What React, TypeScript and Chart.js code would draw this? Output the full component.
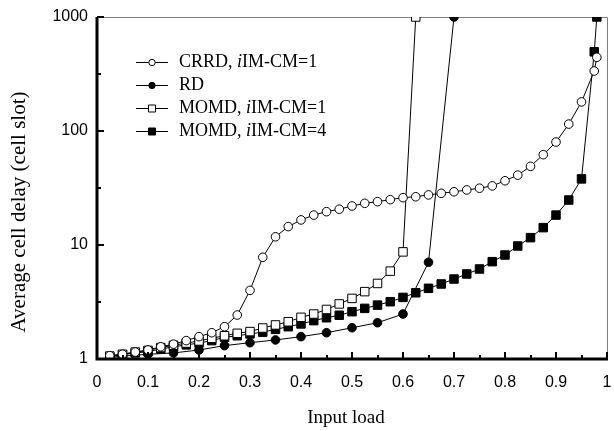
import React, { useEffect, useRef } from "react";
import { Chart, registerables } from "chart.js";

Chart.register(...registerables);

// ---- data ----
const crrdLoad = [0.025, 0.05, 0.075, 0.1, 0.125, 0.15, 0.175, 0.2, 0.225, 0.25, 0.275, 0.3, 0.325, 0.35, 0.375, 0.4, 0.425, 0.45, 0.475, 0.5, 0.525, 0.55, 0.575, 0.6, 0.625, 0.65, 0.675, 0.7, 0.725, 0.75, 0.775, 0.8, 0.825, 0.85, 0.875, 0.9, 0.925, 0.95, 0.975, 0.98];
const crrdDelay = [1.07, 1.1, 1.15, 1.2, 1.28, 1.35, 1.45, 1.57, 1.7, 1.92, 2.43, 4.0, 7.8, 11.8, 14.5, 16.6, 18.3, 19.6, 20.6, 22, 23.2, 24, 25, 26, 26.5, 27.5, 28.4, 29.3, 30.4, 31.5, 33, 36.6, 41, 49, 62, 80, 115, 180, 336, 443];

const rdLoad = [0.025, 0.05, 0.1, 0.15, 0.2, 0.25, 0.3, 0.35, 0.4, 0.45, 0.5, 0.55, 0.6, 0.65, 0.7];
const rdDelay = [1.03, 1.06, 1.1, 1.13, 1.2, 1.31, 1.39, 1.47, 1.57, 1.7, 1.88, 2.08, 2.48, 7.06, 1000];

const momd1Load = [0.025, 0.05, 0.075, 0.1, 0.125, 0.15, 0.175, 0.2, 0.225, 0.25, 0.275, 0.3, 0.325, 0.35, 0.375, 0.4, 0.425, 0.45, 0.475, 0.5, 0.525, 0.55, 0.575, 0.6, 0.625];
const momd1Delay = [1.06, 1.1, 1.15, 1.19, 1.26, 1.32, 1.38, 1.44, 1.52, 1.6, 1.68, 1.74, 1.87, 1.99, 2.12, 2.32, 2.48, 2.72, 3.04, 3.4, 3.9, 4.6, 5.9, 8.7, 1000];

const momd4Load = [0.025, 0.05, 0.075, 0.1, 0.125, 0.15, 0.175, 0.2, 0.225, 0.25, 0.275, 0.3, 0.325, 0.35, 0.375, 0.4, 0.425, 0.45, 0.475, 0.5, 0.525, 0.55, 0.575, 0.6, 0.625, 0.65, 0.675, 0.7, 0.725, 0.75, 0.775, 0.8, 0.825, 0.85, 0.875, 0.9, 0.925, 0.95, 0.975, 0.98];
const momd4Delay = [1.05, 1.09, 1.13, 1.16, 1.22, 1.28, 1.33, 1.38, 1.45, 1.55, 1.6, 1.66, 1.72, 1.82, 1.92, 2.03, 2.17, 2.3, 2.42, 2.6, 2.78, 2.97, 3.18, 3.47, 3.81, 4.17, 4.55, 5.03, 5.57, 6.16, 7.14, 8.17, 9.8, 11.6, 14.2, 18.3, 24.8, 38, 495, 1000];

const yTickValues = [1, 10, 100, 1000];
const xTickLabels = ["0", "0.1", "0.2", "0.3", "0.4", "0.5", "0.6", "0.7", "0.8", "0.9", "1"];

const xTitle = "Input load";
const yTitle = "Average cell delay (cell slot)";

// legend entries: [prefix, italic part, suffix]
const legendItems = [
  { parts: ["CRRD, ", "i", "IM-CM=1"], style: "circle", fill: "#ffffff" },
  { parts: ["RD", "", ""], style: "circle", fill: "#000000" },
  { parts: ["MOMD, ", "i", "IM-CM=1"], style: "rect", fill: "#ffffff" },
  { parts: ["MOMD, ", "i", "IM-CM=4"], style: "rect", fill: "#000000" },
];

const SERIF = '"Liberation Serif", "Times New Roman", serif';
const SANS = '"Liberation Sans", Arial, sans-serif';

function pts(xs: number[], ys: number[]) {
  return xs.map((x, i) => ({ x, y: ys[i] }));
}

const decorPlugin = {
  id: "decor",
  beforeDatasetsDraw(chart: any) {
    const { ctx, chartArea } = chart;
    const { left, right, top, bottom } = chartArea;
    ctx.save();
    ctx.strokeStyle = "#808080";
    ctx.lineWidth = 1;
    ctx.beginPath();
    ctx.moveTo(left, top + 0.5);
    ctx.lineTo(right + 0.5, top + 0.5);
    ctx.lineTo(right + 0.5, bottom);
    ctx.stroke();
    ctx.restore();
  },
  afterDatasetsDraw(chart: any) {
    const { ctx, chartArea } = chart;
    const { left, right, top, bottom } = chartArea;
    const xs = chart.scales.x;
    const ys = chart.scales.y;
    ctx.save();
    ctx.strokeStyle = "#000";
    ctx.lineWidth = 3;
    ctx.beginPath();
    ctx.moveTo(left, top);
    ctx.lineTo(left, bottom);
    ctx.lineTo(right + 1, bottom);
    ctx.stroke();
    ctx.lineWidth = 2;
    for (let i = 0; i <= 20; i++) {
      const v = i * 0.05;
      const px = Math.round(xs.getPixelForValue(v));
      const len = i % 2 === 0 ? 7 : 4;
      ctx.beginPath();
      ctx.moveTo(px, bottom);
      ctx.lineTo(px, bottom - len);
      ctx.stroke();
    }
    for (let k = 0; k < 3; k++) {
      const major = ys.getPixelForValue(Math.pow(10, k + 1));
      const minor = ys.getPixelForValue(Math.pow(10, k + 0.5));
      ctx.beginPath();
      ctx.moveTo(left, Math.round(major));
      ctx.lineTo(left + 7, Math.round(major));
      ctx.stroke();
      ctx.beginPath();
      ctx.moveTo(left, Math.round(minor));
      ctx.lineTo(left + 4, Math.round(minor));
      ctx.stroke();
    }
    ctx.restore();
  },
  afterDraw(chart: any) {
    const { ctx } = chart;
    ctx.save();
    ctx.fillStyle = "#000";
    ctx.font = `19px ${SERIF}`;
    ctx.textAlign = "center";
    ctx.textBaseline = "middle";
    ctx.fillText(xTitle, 346, 418);
    ctx.save();
    ctx.translate(19, 212);
    ctx.rotate(-Math.PI / 2);
    ctx.font = `21px ${SERIF}`;
    ctx.fillText(yTitle, 0, 0);
    ctx.restore();

    const rowY = [62, 85, 108, 131];
    legendItems.forEach((it, i) => {
      const y = rowY[i];
      ctx.strokeStyle = "#000";
      ctx.lineWidth = 1;
      ctx.beginPath();
      ctx.moveTo(136, y + 0.5);
      ctx.lineTo(168, y + 0.5);
      ctx.stroke();
      ctx.fillStyle = it.fill;
      ctx.beginPath();
      if (it.style === "circle") {
        ctx.arc(152, y + 0.5, 3.2, 0, Math.PI * 2);
      } else {
        ctx.rect(148.5, y - 3, 7, 7);
      }
      ctx.fill();
      ctx.stroke();
      ctx.fillStyle = "#000";
      ctx.textAlign = "left";
      ctx.textBaseline = "middle";
      let x = 179;
      const [a, b, c] = it.parts;
      ctx.font = `18px ${SERIF}`;
      ctx.fillText(a, x, y);
      x += ctx.measureText(a).width;
      if (b) {
        ctx.font = `italic 18px ${SERIF}`;
        ctx.fillText(b, x, y);
        x += ctx.measureText(b).width;
      }
      if (c) {
        ctx.font = `18px ${SERIF}`;
        ctx.fillText(c, x, y);
      }
    });
    ctx.restore();
  },
};

function zeroPad(s: any) {
  s.paddingLeft = 0;
  s.paddingRight = 0;
  s.paddingTop = 0;
  s.paddingBottom = 0;
}

export default function App() {
  const ref = useRef<HTMLCanvasElement>(null);
  useEffect(() => {
    document.body.style.margin = "0";
    const canvas = ref.current!;
    const common = {
      borderColor: "#000",
      borderWidth: 1,
      pointBorderColor: "#000",
      pointBorderWidth: 1,
      tension: 0,
    };
    const chart = new Chart(canvas, {
      type: "line",
      data: {
        datasets: [
          { ...common, label: "CRRD", data: pts(crrdLoad, crrdDelay), pointStyle: "circle", pointRadius: 4.3, pointBackgroundColor: "#fff" },
          { ...common, label: "RD", data: pts(rdLoad, rdDelay), pointStyle: "circle", pointRadius: 4.3, pointBackgroundColor: "#000" },
          { ...common, label: "MOMD1", data: pts(momd1Load, momd1Delay), pointStyle: "rect", pointRadius: 6, pointBackgroundColor: "#fff" },
          { ...common, label: "MOMD4", data: pts(momd4Load, momd4Delay), pointStyle: "rect", pointRadius: 6, pointBackgroundColor: "#000" },
        ] as any,
      },
      options: {
        responsive: false,
        animation: false,
        devicePixelRatio: 1,
        layout: { padding: { top: 17, right: 4, left: 0, bottom: 0 } },
        plugins: { legend: { display: false }, tooltip: { enabled: false } },
        scales: {
          x: {
            type: "linear",
            min: 0,
            max: 1,
            grid: { display: false, drawTicks: false },
            border: { display: false },
            afterBuildTicks: (s: any) => {
              s.ticks = xTickLabels.map((l) => ({ value: parseFloat(l) }));
            },
            afterFit: (s: any) => {
              s.height = 72;
              zeroPad(s);
            },
            ticks: {
              autoSkip: false,
              maxRotation: 0,
              padding: 14,
              color: "#000",
              font: { family: SANS, size: 16 },
              callback: (v: any) => String(v),
            },
          },
          y: {
            type: "logarithmic",
            min: 1,
            max: 1000,
            grid: { display: false, drawTicks: false },
            border: { display: false },
            afterBuildTicks: (s: any) => {
              s.ticks = yTickValues.map((v) => ({ value: v }));
            },
            afterFit: (s: any) => {
              s.width = 97;
              zeroPad(s);
            },
            ticks: {
              autoSkip: false,
              padding: 9,
              color: "#000",
              font: { family: SANS, size: 16 },
              callback: (v: any) => String(v),
            },
          },
        },
      } as any,
      plugins: [decorPlugin],
    });
    return () => chart.destroy();
  }, []);
  return (
    <div style={{ width: 614, height: 431 }}>
      <canvas ref={ref} width={614} height={431} style={{ display: "block" }} />
    </div>
  );
}
